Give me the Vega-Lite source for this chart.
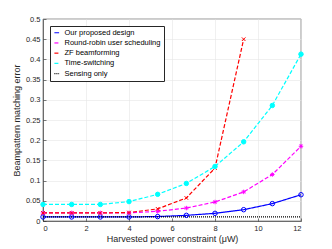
{
  "$schema": "https://vega.github.io/schema/vega-lite/v6.json",
  "autosize": {"type": "none"},
  "padding": {"left": 43, "top": 19, "right": 31, "bottom": 28},
  "width": 258,
  "height": 202,
  "background": "white",
  "config": {
    "font": "Liberation Sans",
    "view": {"stroke": "#262626", "strokeWidth": 0.6},
    "axis": {
      "grid": true, "gridColor": "#e6e6e6", "gridWidth": 0.6,
      "domainColor": "#262626", "domainWidth": 0.6,
      "tickColor": "#262626", "tickSize": -3, "tickWidth": 0.6,
      "labelFontSize": 7.5, "labelColor": "#262626",
      "titleFontSize": 9, "titleFontWeight": "normal", "titleColor": "#262626"
    }
  },
  "data": {"values": [
    {"x": 0, "y": 0.010, "s": "Our proposed design"},
    {"x": 1.333, "y": 0.010, "s": "Our proposed design"},
    {"x": 2.667, "y": 0.010, "s": "Our proposed design"},
    {"x": 4, "y": 0.010, "s": "Our proposed design"},
    {"x": 5.333, "y": 0.011, "s": "Our proposed design"},
    {"x": 6.667, "y": 0.014, "s": "Our proposed design"},
    {"x": 8, "y": 0.019, "s": "Our proposed design"},
    {"x": 9.333, "y": 0.028, "s": "Our proposed design"},
    {"x": 10.667, "y": 0.043, "s": "Our proposed design"},
    {"x": 12, "y": 0.065, "s": "Our proposed design"},
    {"x": 0, "y": 0.020, "s": "Round-robin user scheduling"},
    {"x": 1.333, "y": 0.020, "s": "Round-robin user scheduling"},
    {"x": 2.667, "y": 0.020, "s": "Round-robin user scheduling"},
    {"x": 4, "y": 0.020, "s": "Round-robin user scheduling"},
    {"x": 5.333, "y": 0.024, "s": "Round-robin user scheduling"},
    {"x": 6.667, "y": 0.032, "s": "Round-robin user scheduling"},
    {"x": 8, "y": 0.047, "s": "Round-robin user scheduling"},
    {"x": 9.333, "y": 0.072, "s": "Round-robin user scheduling"},
    {"x": 10.667, "y": 0.115, "s": "Round-robin user scheduling"},
    {"x": 12, "y": 0.185, "s": "Round-robin user scheduling"},
    {"x": 0, "y": 0.020, "s": "ZF beamforming"},
    {"x": 1.333, "y": 0.020, "s": "ZF beamforming"},
    {"x": 2.667, "y": 0.020, "s": "ZF beamforming"},
    {"x": 4, "y": 0.021, "s": "ZF beamforming"},
    {"x": 5.333, "y": 0.030, "s": "ZF beamforming"},
    {"x": 6.667, "y": 0.057, "s": "ZF beamforming"},
    {"x": 8, "y": 0.131, "s": "ZF beamforming"},
    {"x": 9.333, "y": 0.450, "s": "ZF beamforming"},
    {"x": 0, "y": 0.041, "s": "Time-switching"},
    {"x": 1.333, "y": 0.041, "s": "Time-switching"},
    {"x": 2.667, "y": 0.041, "s": "Time-switching"},
    {"x": 4, "y": 0.048, "s": "Time-switching"},
    {"x": 5.333, "y": 0.066, "s": "Time-switching"},
    {"x": 6.667, "y": 0.093, "s": "Time-switching"},
    {"x": 8, "y": 0.135, "s": "Time-switching"},
    {"x": 9.333, "y": 0.196, "s": "Time-switching"},
    {"x": 10.667, "y": 0.286, "s": "Time-switching"},
    {"x": 12, "y": 0.413, "s": "Time-switching"},
    {"x": 0, "y": 0.010, "s": "Sensing only"},
    {"x": 12, "y": 0.010, "s": "Sensing only"}
  ]},
  "encoding": {
    "x": {"field": "x", "type": "quantitative", "scale": {"domain": [0, 12], "nice": false},
      "axis": {"values": [0, 2, 4, 6, 8, 10, 12], "title": "Harvested power constraint (μW)", "titlePadding": 3, "labelPadding": 6}},
    "y": {"field": "y", "type": "quantitative", "scale": {"domain": [0, 0.5], "nice": false},
      "axis": {"values": [0, 0.05, 0.1, 0.15, 0.2, 0.25, 0.3, 0.35, 0.4, 0.45, 0.5], "labelExpr": "format(datum.value, '~g')", "title": "Beampattern matching error", "titlePadding": 4, "labelPadding": 6}}
  },
  "layer": [
    {
      "mark": {"type": "line", "strokeWidth": 1.2},
      "encoding": {
        "stroke": {"field": "s", "type": "nominal", "title": null,
          "scale": {"domain": ["Our proposed design", "Round-robin user scheduling", "ZF beamforming", "Time-switching", "Sensing only"],
            "range": ["#0000FF", "#FF00FF", "#FF0000", "#00FFFF", "#000000"]},
          "legend": {"orient": "top-left", "offset": 7, "fillColor": "white", "strokeColor": "#262626", "padding": 3, "labelFontSize": 7.5, "labelColor": "#000", "symbolSize": 22, "rowPadding": 1.2, "symbolStrokeWidth": 1.2}},
        "strokeDash": {"field": "s", "type": "nominal", "title": null,
          "scale": {"domain": ["Our proposed design", "Round-robin user scheduling", "ZF beamforming", "Time-switching", "Sensing only"],
            "range": [[1, 0], [4, 2], [4, 2], [4, 2], [1, 1]]}}
      }
    },
    {
      "transform": [{"filter": "datum.s !== 'Sensing only'"}],
      "mark": {"type": "point", "size": 20, "strokeWidth": 1, "opacity": 1},
      "encoding": {
        "stroke": {"field": "s", "type": "nominal", "title": null, "legend": null},
        "shape": {"field": "s", "type": "nominal", "legend": null,
          "scale": {"domain": ["Our proposed design", "Round-robin user scheduling", "ZF beamforming", "Time-switching"],
            "range": ["circle", "M-1,0L1,0M0,-1L0,1M-0.7,-0.7L0.7,0.7M-0.7,0.7L0.7,-0.7", "M-0.8,-0.8L0.8,0.8M-0.8,0.8L0.8,-0.8", "circle"]}},
        "fill": {"field": "s", "type": "nominal", "legend": null,
          "scale": {"domain": ["Our proposed design", "Round-robin user scheduling", "ZF beamforming", "Time-switching"],
            "range": ["transparent", "transparent", "transparent", "#00FFFF"]}}
      }
    }
  ]
}
